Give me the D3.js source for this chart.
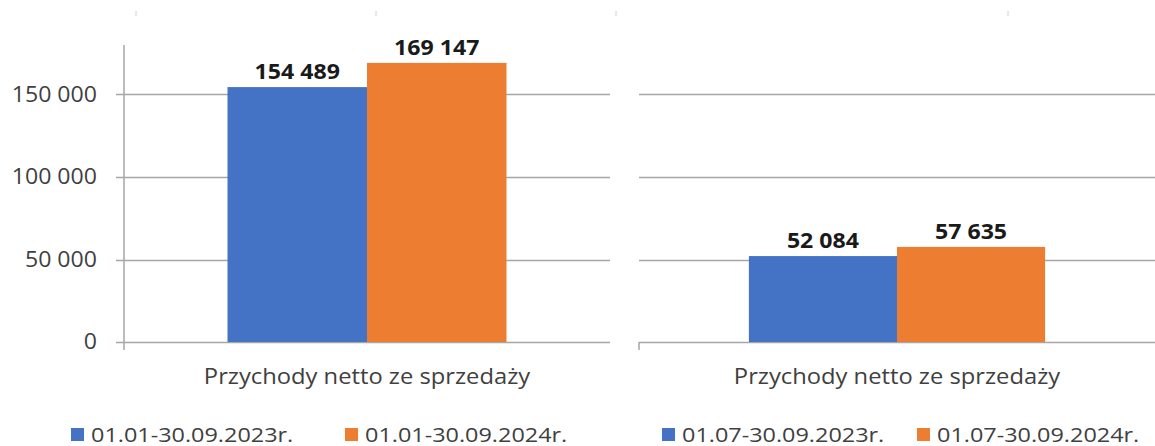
<!DOCTYPE html>
<html>
<head>
<meta charset="utf-8">
<script src="https://cdn.jsdelivr.net/npm/d3@7"></script>
<style>
  body { margin:0; background:#fff; }
  svg text { font-family:"Open Sans", sans-serif; }
</style>
</head>
<body>
<script>
// ---------------------------------------------------------------
// Data
// ---------------------------------------------------------------
var categories = ["Przychody netto ze sprzedaży"];
var seriesLeft = ["01.01-30.09.2023r.", "01.01-30.09.2024r."];
var valuesLeft = [154489, 169147];
var seriesRight = ["01.07-30.09.2023r.", "01.07-30.09.2024r."];
var valuesRight = [52084, 57635];
var yTicks = [0, 50000, 100000, 150000];
var yMax = 180000;
var colors = ["#4472C4", "#ED7D31"];

var W = 1155, H = 446;
var fmt = function(v){ return d3.format(",")(v).replace(/,/g, " "); };

// the reference text is a bit wider than Open Sans, so widen glyphs
function widen(sel, k){
   sel.each(function(){
      var w = this.getComputedTextLength();
      d3.select(this).attr("textLength", w*k).attr("lengthAdjust", "spacingAndGlyphs");
   });
}

var svg = d3.select("body").append("svg")
            .attr("width", W).attr("height", H);

// small stray marks along the top edge
svg.selectAll("line.topmark").data([136, 376, 616, 1008]).enter()
   .append("line").attr("class","topmark")
   .attr("x1", function(d){return d;}).attr("x2", function(d){return d;})
   .attr("y1", 11).attr("y2", 16)
   .attr("stroke", "#d0d0d0").attr("stroke-width", 1);

var y = d3.scaleLinear().domain([0, yMax]).range([342, 45]);

//-------------------------------------------------------------------
// Draw one panel
//-------------------------------------------------------------------
function drawPanel(x0, x1, series, values, showAxis, legendX){

   var g = svg.append("g");

   // gridlines
   g.selectAll("line.grid").data(yTicks).enter()
    .append("line").attr("class","grid")
    .attr("x1", showAxis ? x0 - 8 : x0).attr("x2", x1)
    .attr("y1", function(d){return Math.round(y(d))+0.5;})
    .attr("y2", function(d){return Math.round(y(d))+0.5;})
    .attr("stroke", "#a6a6a6").attr("stroke-width", 1.5);

   if (showAxis) {
      g.append("line")
       .attr("x1", x0).attr("x2", x0).attr("y1", 45).attr("y2", 350)
       .attr("stroke", "#a6a6a6").attr("stroke-width", 1.5);
      var yl = g.selectAll("text.ytick").data(yTicks).enter()
       .append("text").attr("class","ytick")
       .attr("x", 97).attr("y", function(d){return y(d);})
       .attr("dy", "0.35em").attr("text-anchor","end")
       .attr("fill", "#404040").style("font-size","21px")
       .text(fmt);
      widen(yl, 1.1);
   } else {
      g.append("line")
       .attr("x1", x0).attr("x2", x0).attr("y1", 342).attr("y2", 350)
       .attr("stroke", "#a6a6a6").attr("stroke-width", 1.5);
   }

   var x = d3.scaleBand().domain(categories).range([x0, x1])
             .paddingInner(0).paddingOuter(0.371);
   var xs = d3.scaleBand().domain(series).range([0, x.bandwidth()]);

   var cat = g.selectAll("g.cat").data(categories).enter()
              .append("g").attr("class","cat")
              .attr("transform", function(d){return "translate("+x(d)+",0)";});

   var rows = series.map(function(s, i){ return {s:s, v:values[i], c:colors[i]}; });

   cat.selectAll("rect").data(rows).enter().append("rect")
      .attr("x", function(d){return xs(d.s);})
      .attr("width", xs.bandwidth())
      .attr("y", function(d){return y(d.v);})
      .attr("height", function(d){return y(0) - y(d.v);})
      .attr("fill", function(d){return d.c;});

   var vl = cat.selectAll("text.val").data(rows).enter().append("text")
      .attr("class","val")
      .attr("x", function(d){return xs(d.s) + xs.bandwidth()/2;})
      .attr("y", function(d){return y(d.v) - 8;})
      .attr("text-anchor","middle").attr("fill","#1a1a1a")
      .style("font-size","21px").style("font-weight","bold")
      .text(function(d){return fmt(d.v);});
   widen(vl, 1.1);

   // category label
   var cl = cat.append("text")
      .attr("x", x.bandwidth()/2).attr("y", 384)
      .attr("text-anchor","middle").attr("fill","#404040")
      .style("font-size","21px")
      .text(function(d){return d;});
   widen(cl, 1.13);

   // legend
   var lg = g.selectAll("g.leg").data(rows).enter().append("g").attr("class","leg")
             .attr("transform", function(d, i){return "translate("+legendX[i]+",428)";});
   lg.append("rect").attr("x",0).attr("y",0).attr("width",13).attr("height",13)
     .attr("fill", function(d){return d.c;});
   var lt = lg.append("text").attr("x",20).attr("y",13.5)
     .attr("fill","#404040").style("font-size","20px")
     .text(function(d){return d.s;});
   widen(lt, 1.17);
}

drawPanel(124, 610, seriesLeft, valuesLeft, true, [71, 345]);
drawPanel(639, 1155, seriesRight, valuesRight, false, [662, 917]);
</script>
</body>
</html>
